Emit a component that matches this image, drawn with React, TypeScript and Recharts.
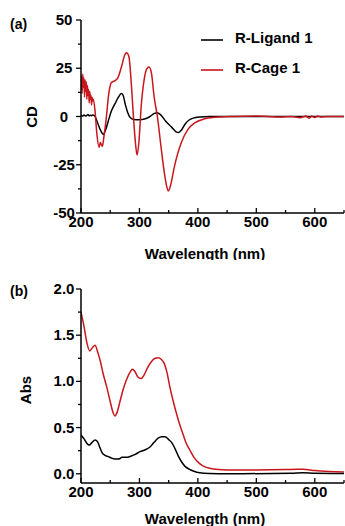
import React from 'react';
import { LineChart, Line, XAxis, YAxis, Legend } from 'recharts';

const FONT = '"Liberation Sans", Arial, Helvetica, sans-serif';
const RED = '#c8161d';
const BLACK = '#000000';

const seriesNames = ['R-Ligand 1', 'R-Cage 1'];

// (a) CD spectra
const cdLigandWl = [200, 203, 205, 208, 210, 212, 214, 216, 218, 220, 223, 228, 234, 238, 242, 247, 252, 258, 264, 269, 272, 276, 280, 285, 290, 300, 310, 318, 325, 330, 336, 345, 355, 362, 367, 372, 378, 385, 395, 405, 420, 500, 600, 650];
const cdLigandVal = [0.5, 0.2, 0.8, 0.2, 0.6, 1.0, 0.3, 0.7, 0.4, 0.8, 0.5, -3, -7.5, -9.3, -7, -2, 2.8, 6.5, 10, 11.9, 11, 6, 2, -0.8, -1.5, -1.7, -1.2, 0, 1.5, 1.9, 1, -2.5, -5.5, -7.8, -8.3, -7, -4, -1.8, -0.6, -0.2, 0, 0, 0, 0];

const cdCageWl = [200, 201, 202, 203, 204, 205, 206, 207, 208, 209, 210, 211, 212, 213, 214, 215, 216, 217, 218, 219, 220, 221, 224, 227, 231, 233, 236.5, 239, 243, 247.7, 252, 257.5, 263, 269.5, 275, 278, 282, 286, 290, 293.7, 296, 299, 303, 308, 312.5, 316.5, 320.5, 325, 331, 336.8, 342.5, 347, 349.5, 353, 360, 371.5, 383, 394.5, 411.6, 430, 460, 500, 540, 560, 575, 585, 590, 595, 600, 605, 610, 620, 650];
const cdCageVal = [14, 21, 12, 22, 15, 20, 10, 19, 13, 18, 9, 16, 11, 14, 7, 13, 9, 11, 6, 10, 8, 9, 3, -8.5, -16, -13.5, -15.5, -11, -1.5, 12.2, 17.6, 18.5, 20, 26, 32, 33, 31, 17.4, -1.5, -15.3, -20, -13.6, 5.3, 19, 24.7, 25.7, 22.6, 10.5, -0.7, -15.4, -29, -36.7, -38.6, -36, -25.7, -13.6, -6.7, -3.3, -1.2, -0.4, 0, 0.2, -0.3, 0, -0.6, 0.3, -0.9, 0.2, -0.5, 0.3, -0.2, 0, 0];

// (b) Absorption spectra
const absLigandWl = [200, 205, 210, 214, 219, 224, 228, 232, 236, 241, 247, 252, 258, 263, 267, 270, 275, 280, 285, 293, 301, 310, 318, 325, 332, 338, 344, 350, 355, 361, 367, 372, 378, 385, 392, 403, 420, 450, 560, 580, 600, 650];
const absLigandVal = [0.42, 0.38, 0.33, 0.31, 0.34, 0.365, 0.35, 0.29, 0.23, 0.2, 0.185, 0.17, 0.16, 0.16, 0.165, 0.18, 0.18, 0.18, 0.19, 0.21, 0.24, 0.26, 0.29, 0.34, 0.385, 0.4, 0.4, 0.37, 0.34, 0.27, 0.185, 0.13, 0.08, 0.05, 0.03, 0.01, 0.003, 0, 0.005, 0.01, 0.005, 0.003];

const absCageWl = [200, 205, 210, 215, 220, 224, 228, 233, 238, 244, 250, 255, 258, 262, 267, 272, 278, 284, 288, 292, 297, 303, 308, 314, 320, 327, 332, 337, 342, 347, 352, 358, 363, 369, 375, 380, 386, 393, 403, 412, 420, 435, 450, 500, 550, 570, 580, 600, 625, 650];
const absCageVal = [1.75, 1.6, 1.42, 1.33, 1.37, 1.39, 1.33, 1.22, 1.08, 0.94, 0.78, 0.66, 0.625, 0.67, 0.79, 0.91, 1.02, 1.1, 1.13, 1.11, 1.05, 1.03, 1.07, 1.15, 1.21, 1.25, 1.255, 1.24, 1.2, 1.1, 0.94, 0.78, 0.66, 0.53, 0.42, 0.33, 0.26, 0.18, 0.11, 0.075, 0.06, 0.045, 0.04, 0.04, 0.045, 0.05, 0.05, 0.035, 0.025, 0.02];

const xTicks = [200, 250, 300, 350, 400, 450, 500, 550, 600, 650];
const cdTicks = [-50, -37.5, -25, -12.5, 0, 12.5, 25, 37.5, 50];
const absTicks = [0, 0.25, 0.5, 0.75, 1, 1.25, 1.5, 1.75, 2];

const zip = (wl: number[], v: number[]) => wl.map((w, i) => ({ wl: w, v: v[i] }));

const XTick = (props: any) => {
  const { x, y, payload } = props;
  const major = payload.value % 100 === 0;
  return (
    <g>
      <line x1={x} x2={x} y1={y} y2={y - (major ? 5 : 3)} stroke="#000" strokeWidth={1.3} />
      {major && (
        <text x={x} y={y + 13.5} textAnchor="middle" fontFamily={FONT} fontWeight="bold" fontSize={15} fill="#000">
          {payload.value}
        </text>
      )}
    </g>
  );
};

const makeYTick = (step: number, digits: number) => (props: any) => {
  const { x, y, payload } = props;
  const major = Math.abs(payload.value % step) < 1e-9;
  return (
    <g>
      <line x1={x} x2={x - (major ? 5 : 3)} y1={y} y2={y} stroke="#000" strokeWidth={1.3} />
      {major && (
        <text x={x - 17} y={y + 5} textAnchor="middle" fontFamily={FONT} fontWeight="bold" fontSize={15} fill="#000">
          {payload.value.toFixed(digits)}
        </text>
      )}
    </g>
  );
};

const CdTick = makeYTick(25, 0);
const AbsTick = makeYTick(0.5, 1);

const textStyle = { fontFamily: FONT, fontWeight: 'bold' as const, fill: '#000' };

const renderLegend = (props: any) => {
  const payload = [...(props.payload || [])].sort(
    (a: any, b: any) => seriesNames.indexOf(a.value) - seriesNames.indexOf(b.value)
  );
  return (
    <div style={{ fontFamily: FONT, fontWeight: 'bold', fontSize: 15, color: '#000', width: 144 }}>
      {payload.map((e: any, i: number) => (
        <div key={i} style={{ display: 'flex', alignItems: 'center', height: 30 }}>
          <svg width={34} height={12} style={{ display: 'block' }}>
            <line x1={0} x2={22} y1={9} y2={9} stroke={e.color} strokeWidth={1.6} />
          </svg>
          <span>{e.value}</span>
        </div>
      ))}
    </div>
  );
};

export default function App() {
  return (
    <div style={{ position: 'absolute', left: 0, top: 0, width: 345, height: 526, background: '#fff' }}>
      <div style={{ position: 'absolute', left: 0, top: 0 }}>
        <LineChart width={345} height={260} margin={{ top: 20, right: 1, bottom: 0, left: 0 }}>
          <XAxis
            dataKey="wl"
            type="number"
            domain={[200, 650]}
            ticks={xTicks}
            interval={0}
            allowDataOverflow
            height={47}
            tickSize={0}
            tickMargin={0}
            tickLine={false}
            axisLine={{ stroke: '#000', strokeWidth: 1.5 }}
            tick={<XTick />}
            label={{
              content: () => (
                <text x={205} y={258.5} textAnchor="middle" fontSize={15} {...textStyle}>
                  Wavelength (nm)
                </text>
              ),
            }}
          />
          <YAxis
            type="number"
            domain={[-50, 50]}
            ticks={cdTicks}
            interval={0}
            allowDataOverflow
            width={81}
            tickSize={0}
            tickMargin={0}
            tickLine={false}
            axisLine={{ stroke: '#000', strokeWidth: 1.5 }}
            tick={<CdTick />}
            label={{
              content: () => (
                <g>
                  <text x={31} y={117} transform="rotate(-90 31 117)" textAnchor="middle" dominantBaseline="central" fontSize={15} {...textStyle}>
                    CD
                  </text>
                  <text x={10} y={29} fontSize={14} {...textStyle}>
                    (a)
                  </text>
                </g>
              ),
            }}
          />
          <Legend
            layout="vertical"
            verticalAlign="middle"
            align="center"
            content={renderLegend}
            wrapperStyle={{ left: 201, top: 22, width: 0, height: 0, overflow: 'visible' }}
          />
          <Line name={seriesNames[0]} data={zip(cdLigandWl, cdLigandVal)} dataKey="v" type="monotone" stroke={BLACK} strokeWidth={1.5} dot={false} isAnimationActive={false} />
          <Line name={seriesNames[1]} data={zip(cdCageWl, cdCageVal)} dataKey="v" type="monotone" stroke={RED} strokeWidth={1.5} dot={false} isAnimationActive={false} />
        </LineChart>
      </div>
      <div style={{ position: 'absolute', left: 0, top: 260 }}>
        <LineChart width={345} height={266} margin={{ top: 29, right: 1, bottom: 0, left: 0 }}>
          <XAxis
            dataKey="wl"
            type="number"
            domain={[200, 650]}
            ticks={xTicks}
            interval={0}
            allowDataOverflow
            height={43}
            tickSize={0}
            tickMargin={0}
            tickLine={false}
            axisLine={{ stroke: '#000', strokeWidth: 1.5 }}
            tick={<XTick />}
            label={{
              content: () => (
                <text x={205} y={264} textAnchor="middle" fontSize={15} {...textStyle}>
                  Wavelength (nm)
                </text>
              ),
            }}
          />
          <YAxis
            type="number"
            domain={[-0.1, 2]}
            ticks={absTicks}
            interval={0}
            allowDataOverflow
            width={81}
            tickSize={0}
            tickMargin={0}
            tickLine={false}
            axisLine={{ stroke: '#000', strokeWidth: 1.5 }}
            tick={<AbsTick />}
            label={{
              content: () => (
                <g>
                  <text x={25} y={130} transform="rotate(-90 25 130)" textAnchor="middle" dominantBaseline="central" fontSize={15} {...textStyle}>
                    Abs
                  </text>
                  <text x={10} y={36} fontSize={14} {...textStyle}>
                    (b)
                  </text>
                </g>
              ),
            }}
          />
          <Line name={seriesNames[0]} data={zip(absLigandWl, absLigandVal)} dataKey="v" type="monotone" stroke={BLACK} strokeWidth={1.5} dot={false} isAnimationActive={false} />
          <Line name={seriesNames[1]} data={zip(absCageWl, absCageVal)} dataKey="v" type="monotone" stroke={RED} strokeWidth={1.5} dot={false} isAnimationActive={false} />
        </LineChart>
      </div>
    </div>
  );
}
